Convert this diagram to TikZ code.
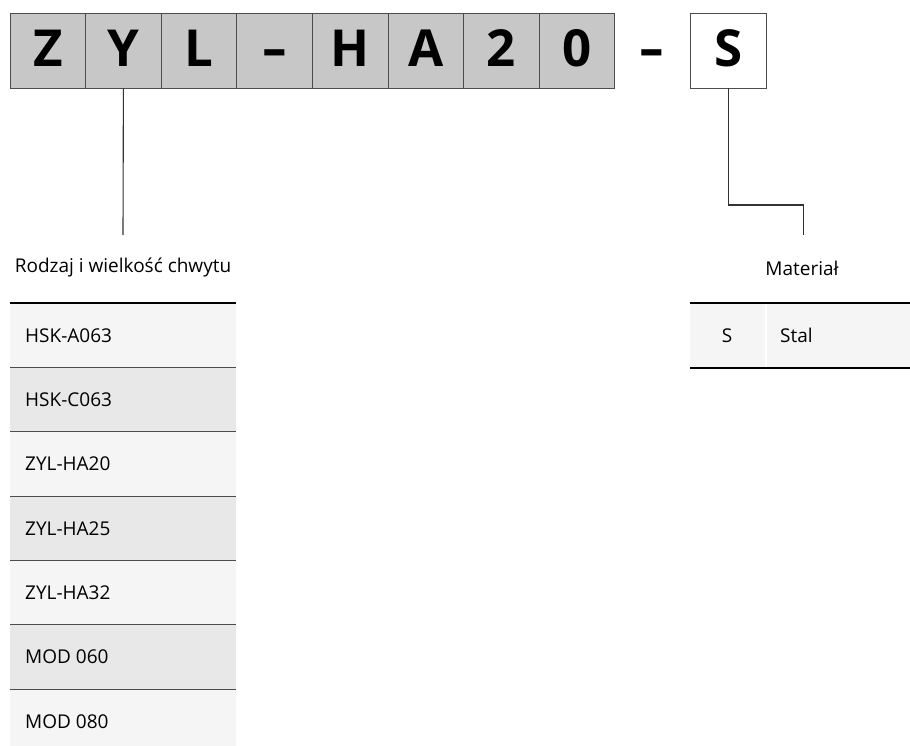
\documentclass[tikz,border=0pt]{standalone}
\usepackage{fontspec}
\setmainfont{Open Sans}
\begin{document}
\begin{tikzpicture}[x=1pt,y=-1pt,
  codebox/.style={draw=black!70,line width=0.9pt,minimum width=75.6pt,minimum height=75pt,inner sep=0pt,anchor=center,text height=32pt,text depth=0pt,font=\fontsize{51}{51}\selectfont\bfseries},
  conn/.style={draw=black!80,line width=1.1pt},
  rowtxt/.style={anchor=west,inner sep=0pt,font=\fontsize{19}{22}\selectfont},
  ttl/.style={inner sep=0pt,font=\fontsize{19}{22}\selectfont},
  sep/.style={draw=black!70,line width=1pt},
  thick sep/.style={draw=black,line width=2pt}]
\useasboundingbox (0,0) rectangle (910,746);
% code boxes
\foreach \t [count=\i from 0] in {Z,Y,L,\scalebox{1.5}[1]{-},H,A,2,0} {
  \node[codebox,fill=black!22] (b\i) at ({10+75.6*(\i+0.5)},50.5) {\t};
}
\node[codebox,draw=none] (dash) at (652,50.5) {\scalebox{1.5}[1]{-}};
\node[codebox,fill=white] (bS) at (728.2,50.5) {S};
% left table
\def\rh{64.3}
\foreach \t [count=\i from 0] in {HSK-A063,HSK-C063,ZYL-HA20,ZYL-HA25,ZYL-HA32,MOD 060,MOD 080} {
  \pgfmathsetmacro{\yt}{303.3+\rh*\i}
  \pgfmathtruncatemacro{\odd}{mod(\i,2)}
  \ifnum\odd=0 \def\fc{black!4}\else\def\fc{black!9}\fi
  \fill[\fc] (10,\yt) rectangle (236,\yt+\rh);
  \node[rowtxt] (r\i) at (25,\yt+\rh/2) {\t};
}
\foreach \i in {1,...,6} {
  \draw[sep] (10,{303.3+\rh*\i}) -- (236,{303.3+\rh*\i});
}
\draw[thick sep] (10,303.3) -- (236,303.3);
\node[ttl] (t1) at (123,268) {Rodzaj i wielkość chwytu};
% right table
\fill[black!4] (690,303.3) rectangle (910,368.3);
\draw[white,line width=2pt] (766,303.3) -- (766,368.3);
\draw[thick sep] (690,303.3) -- (910,303.3);
\draw[thick sep] (690,368.3) -- (910,368.3);
\node[inner sep=0pt,font=\fontsize{19}{22}\selectfont] (mS) at (727,335.8) {S};
\node[rowtxt] (mStal) at (780,335.8) {Stal};
\node[ttl] (t2) at (802,268) {Materiał};
% connectors
\coordinate (c1) at (123,235);
\draw[conn] (b1.south) -- (c1);
\coordinate (c2a) at (728.2,205);
\coordinate (c2b) at (803.3,205);
\coordinate (c2c) at (803.3,235);
\draw[conn] (bS.south) -- (c2a) -- (c2b) -- (c2c);
\end{tikzpicture}
\end{document}
